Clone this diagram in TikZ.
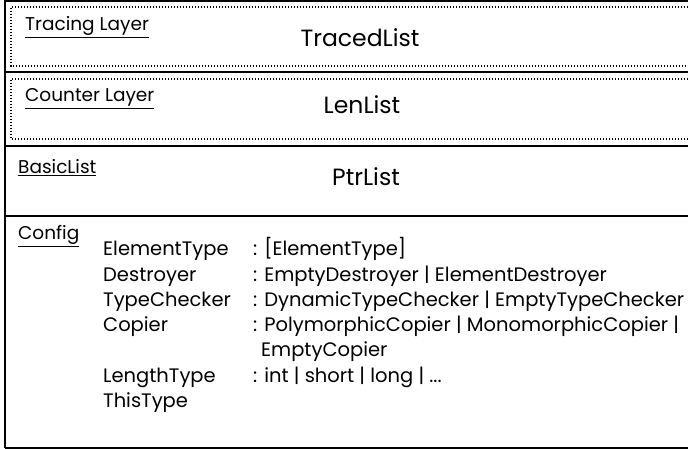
\documentclass[tikz,border=0pt]{standalone}
\usepackage{fontspec}
\setmainfont{Poppins}
\begin{document}
\begin{tikzpicture}[x=1pt,y=-1pt,
  frame/.style={line width=2pt},
  layerbox/.style={line width=1.3pt,dash pattern=on 1.3pt off 1.7pt},
  title/.style={anchor=base west,inner sep=0pt,font=\fontsize{18.5}{22}\selectfont},
  classname/.style={anchor=base,inner sep=0pt,font=\fontsize{23.5}{28}\selectfont},
  cfg/.style={anchor=base west,inner sep=0pt,font=\fontsize{19.5}{23}\selectfont}]
\useasboundingbox (0,0) rectangle (688,449);
\clip (0,0) rectangle (688,449);
\fill[white] (0,0) rectangle (688,449);

% outer frame and row separators
\draw[frame] (4.5,1.5) -- (700,1.5);
\draw[frame] (4.5,0) -- (4.5,447.5);
\draw[frame] (4.5,447.5) -- (700,447.5);
\draw[frame] (4.5,72) -- (700,72);
\draw[frame] (4.5,146) -- (700,146);
\draw[frame] (4.5,216) -- (700,216);

% dotted layer boxes
\draw[layerbox] (700,7) -- (11,7) -- (11,66) -- (700,66);
\draw[layerbox] (700,79) -- (11,79) -- (11,139) -- (700,139);

% row titles
\node[title] (tl) at (25,31) {\underline{Tracing Layer}};
\node[title] (cl) at (25,102) {\underline{Counter Layer}};
\node[title] (bl) at (18,174) {\underline{BasicList}};
\node[title] (cf) at (18,240) {\underline{Config}};

% class names
\node[classname] (traced) at (360,47) {TracedList};
\node[classname] (len) at (362,114) {LenList};
\node[classname] (ptr) at (366,186) {PtrList};

% configuration entries
\node[cfg] (k1) at (103,255) {ElementType};
\node[cfg] (k2) at (103,281) {Destroyer};
\node[cfg] (k3) at (103,306) {TypeChecker};
\node[cfg] (k4) at (103,331) {Copier};
\node[cfg] (k6) at (103,382) {LengthType};
\node[cfg] (k7) at (103,407) {ThisType};

\node[cfg] (v1) at (253,255) {: [ElementType]};
\node[cfg] (v2) at (253,281) {: EmptyDestroyer | ElementDestroyer};
\node[cfg] (v3) at (253,306) {: DynamicTypeChecker | EmptyTypeChecker};
\node[cfg] (v4) at (253,331) {: PolymorphicCopier | MonomorphicCopier |};
\node[cfg] (v5) at (261,356) {EmptyCopier};
\node[cfg] (v6) at (253,382) {: int | short | long | ...};
\end{tikzpicture}
\end{document}
